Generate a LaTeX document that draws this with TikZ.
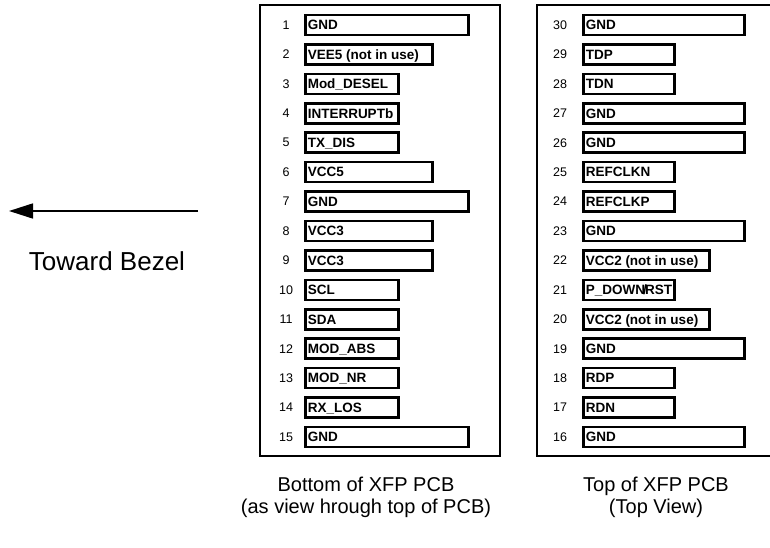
\documentclass[tikz,border=0pt]{standalone}
\usepackage{fontspec}
\setmainfont{Liberation Sans}
\usetikzlibrary{arrows.meta}
\begin{document}
\begin{tikzpicture}[x=1pt,y=-1pt,
  frame/.style={draw=black, line width=1.8pt},
  pinbox/.style={draw=black, line width=2.5pt, minimum height=20pt, inner xsep=2.5pt, inner ysep=0pt,
    anchor=west, font=\fontsize{13.5}{14}\selectfont\bfseries, text height=10.2pt, text depth=0.6pt},
  pinnum/.style={font=\fontsize{12.5}{13}\selectfont, inner sep=0pt},
  caption/.style={font=\fontsize{20}{22}\selectfont, align=center, inner sep=0pt}]
\useasboundingbox (0,0) rectangle (770,548);
% frames
\draw[frame] (260,5) rectangle (500,456);
\draw[frame] (790,5) -- (537,5) -- (537,456) -- (790,456);
% left connector rows
\foreach \n/\lab/\w [count=\i from 0] in {1/GND/163, 2/VEE5 (not in use)/127, 3/Mod\_DESEL/93,
  4/INTERRUPTb/93, 5/TX\_DIS/93, 6/VCC5/127, 7/GND/163, 8/VCC3/127, 9/VCC3/127, 10/SCL/93,
  11/SDA/93, 12/MOD\_ABS/93, 13/MOD\_NR/93, 14/RX\_LOS/93, 15/GND/163}{
  \pgfmathsetmacro\yy{25+\i*29.43}
  \pgfmathsetmacro\tw{\w-5}
  \node[pinnum] (ln\n) at (286,\yy) {\n};
  \node[pinbox] (lb\n) at (304,\yy) {\makebox[\tw pt][l]{\lab}};
}
% right connector rows
\foreach \n/\lab/\w [count=\i from 0] in {30/GND/161, 29/TDP/91, 28/TDN/91, 27/GND/161, 26/GND/161,
  25/REFCLKN/91, 24/REFCLKP/91, 23/GND/161, 22/VCC2 (not in use)/126,
  21/{P\_DOWN\kern-1.8pt/\kern-1.8pt RST}/91,
  20/VCC2 (not in use)/126, 19/GND/161, 18/RDP/91, 17/RDN/91, 16/GND/161}{
  \pgfmathsetmacro\yy{25+\i*29.43}
  \pgfmathsetmacro\tw{\w-5}
  \node[pinnum] (rn\n) at (560,\yy) {\n};
  \node[pinbox] (rb\n) at (582,\yy) {\makebox[\tw pt][l]{\lab}};
}
% arrow toward bezel
\coordinate (arrS) at (198,211);
\coordinate (arrE) at (9,211);
\draw[line width=1.6pt, -{Triangle[length=24pt,width=15pt]}] (arrS) -- (arrE);
\node[font=\fontsize{26}{28}\selectfont, inner sep=0pt] (bezel) at (107,261) {Toward Bezel};
% captions
\node[caption] (capL) at (366,497) {Bottom of XFP PCB\\(as view hrough top of PCB)};
\node[caption] (capR) at (656,497) {Top of XFP PCB\\(Top View)};
\end{tikzpicture}
\end{document}
